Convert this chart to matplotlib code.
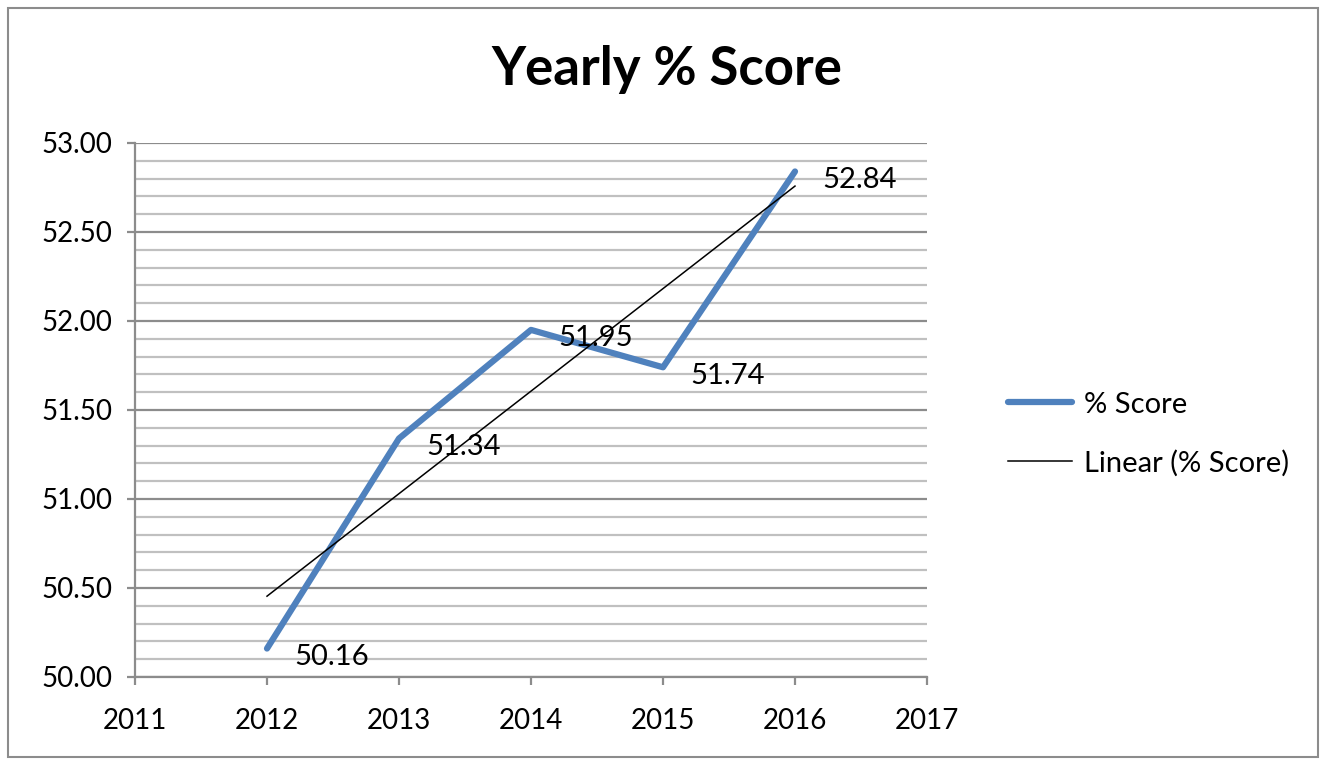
import numpy as np
import matplotlib
matplotlib.use("Agg")
import matplotlib.pyplot as plt
from matplotlib.patches import Rectangle
from matplotlib.ticker import MultipleLocator, FormatStrFormatter

years = [2012, 2013, 2014, 2015, 2016]
scores = [50.16, 51.34, 51.95, 51.74, 52.84]
labels = ["50.16", "51.34", "51.95", "51.74", "52.84"]
title = "Yearly % Score"
series_name = "% Score"
trend_name = "Linear (% Score)"

plt.rcParams['font.family'] = ['Lato', 'DejaVu Sans']

fig = plt.figure(figsize=(13.34, 7.66), dpi=100)
ax = fig.add_axes([135/1334, 1-677/766, (927-135)/1334, (677-143)/766])

blue = '#4F81BD'
ax.plot(years, scores, color=blue, lw=4.5, solid_capstyle='round', solid_joinstyle='round', label=series_name, zorder=3)

coef = np.polyfit(years, scores, 1)
tx = np.array([years[0], years[-1]])
ax.plot(tx, np.polyval(coef, tx), color='black', lw=1.1, label=trend_name, zorder=4)

for x, y, t in zip(years, scores, labels):
    ax.annotate(t, (x, y), xytext=(20, -6), textcoords='offset points', ha='left', va='center',
                fontsize=21, color='black', zorder=5)

ax.set_xlim(2011, 2017)
ax.set_ylim(50, 53)
ax.xaxis.set_major_locator(MultipleLocator(1))
ax.yaxis.set_major_locator(MultipleLocator(0.5))
ax.yaxis.set_minor_locator(MultipleLocator(0.1))
ax.yaxis.set_major_formatter(FormatStrFormatter('%.2f'))
ax.xaxis.set_major_formatter(FormatStrFormatter('%d'))

ax.grid(which='major', axis='y', color='#8C8C8C', lw=1.6, zorder=1)
ax.grid(which='minor', axis='y', color='#C0C0C0', lw=1.6, zorder=1)
ax.set_axisbelow(True)

for s in ['top', 'right']:
    ax.spines[s].set_visible(False)
for s in ['left', 'bottom']:
    ax.spines[s].set_color('#8C8C8C')
    ax.spines[s].set_linewidth(1.6)

ax.tick_params(axis='both', which='major', direction='out', length=6, width=1.6, color='#8C8C8C',
               labelsize=20, labelcolor='black')
ax.tick_params(axis='y', which='minor', length=0)
ax.tick_params(axis='y', which='major', pad=10)
ax.tick_params(axis='x', which='major', pad=16)

fig.text(667/1334, 1-70/766, title, ha='center', va='center', fontsize=38, fontweight='bold')

leg = fig.legend(loc='center left', bbox_to_anchor=(1008/1334, 1-434/766), frameon=False,
                 fontsize=21, handlelength=2.2, labelspacing=1.1, handletextpad=0.4,
                 borderpad=0, borderaxespad=0)

fig.patches.append(Rectangle((8/1334, 1-757/766), (1318-8)/1334, (757-8)/766, transform=fig.transFigure,
                             fill=False, edgecolor='#8C8C8C', lw=1.5))

fig.savefig('out.png', dpi=100, facecolor='white')
